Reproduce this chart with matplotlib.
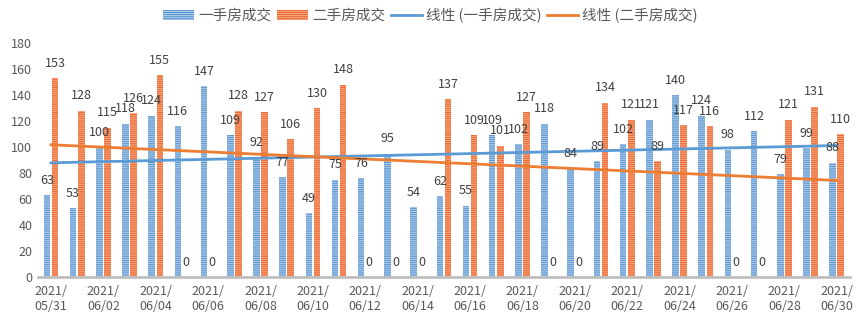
import numpy as np
import matplotlib.pyplot as plt
from matplotlib.lines import Line2D

plt.rcParams['font.family'] = ['Noto Sans CJK SC', 'DejaVu Sans']
plt.rcParams['hatch.linewidth'] = 0.8

dates = ['2021/\n05/31'] + ['2021/\n06/%02d' % d for d in range(1, 31)]

# daily deals
new_homes = [63, 53, 100, 118, 124, 116, 147, 109, 92, 77,
             49, 75, 76, 95, 54, 62, 55, 109, 102, 118,
             84, 89, 102, 121, 140, 124, 98, 112, 79, 99, 88]
resale_homes = [153, 128, 115, 126, 155, 0, 0, 128, 127, 106,
                130, 148, 0, 0, 0, 137, 109, 101, 127, 0,
                0, 134, 121, 89, 117, 116, 0, 0, 121, 131, 110]

series_names = ['一手房成交', '二手房成交']
trend_names = ['线性 (一手房成交)', '线性 (二手房成交)']

blue = '#5B9BD5'
orange = '#ED7D31'


def main():
    fig = plt.figure(figsize=(8.61, 3.23), dpi=100)
    ax = fig.add_axes([0.044, 0.142, 0.943, 0.725])

    x = np.arange(len(dates))
    w = 0.25
    gap = 0.03

    # striped bars: base colour with light hatch lines on top
    b1 = ax.bar(x - w / 2 - gap, new_homes, w, color='#5A96D2',
                edgecolor=(1, 1, 1, 0.5), linewidth=0, hatch='--------')
    b2 = ax.bar(x + w / 2 + gap, resale_homes, w, color='#EC6634',
                edgecolor=(1, 0.85, 0.7, 0.55), linewidth=0, hatch='--------')

    # linear trendlines like excel
    for vals, c in [(new_homes, blue), (resale_homes, orange)]:
        k, b = np.polyfit(x, vals, 1)
        ax.plot(x, k * x + b, color=c, lw=2, zorder=3)

    for bars in (b1, b2):
        ax.bar_label(bars, padding=6, fontsize=9, color='#404040', zorder=4)

    ax.set_xlim(-0.5, len(dates) - 0.5)
    ax.set_ylim(0, 180)
    ax.set_yticks(range(0, 181, 20))
    ax.set_xticks(x[::2])
    ax.set_xticklabels(dates[::2])
    ax.tick_params(axis='both', length=0, labelsize=9, colors='#595959')
    ax.tick_params(axis='x', pad=6)
    ax.tick_params(axis='y', pad=4)

    for s in ['top', 'right', 'left']:
        ax.spines[s].set_visible(False)
    ax.spines['bottom'].set_color('#BFBFBF')
    ax.spines['bottom'].set_linewidth(2)

    handles = [b1, b2,
               Line2D([], [], color=blue, lw=2),
               Line2D([], [], color=orange, lw=2)]
    fig.legend(handles, series_names + trend_names, loc='center',
               bbox_to_anchor=(0.5, 0.952), ncol=4, frameon=False,
               fontsize=10.5, handlelength=2.1, handleheight=0.6,
               handletextpad=0.3, columnspacing=0.4, labelcolor='#595959')

    fig.savefig('out.png', dpi=100)


main()
